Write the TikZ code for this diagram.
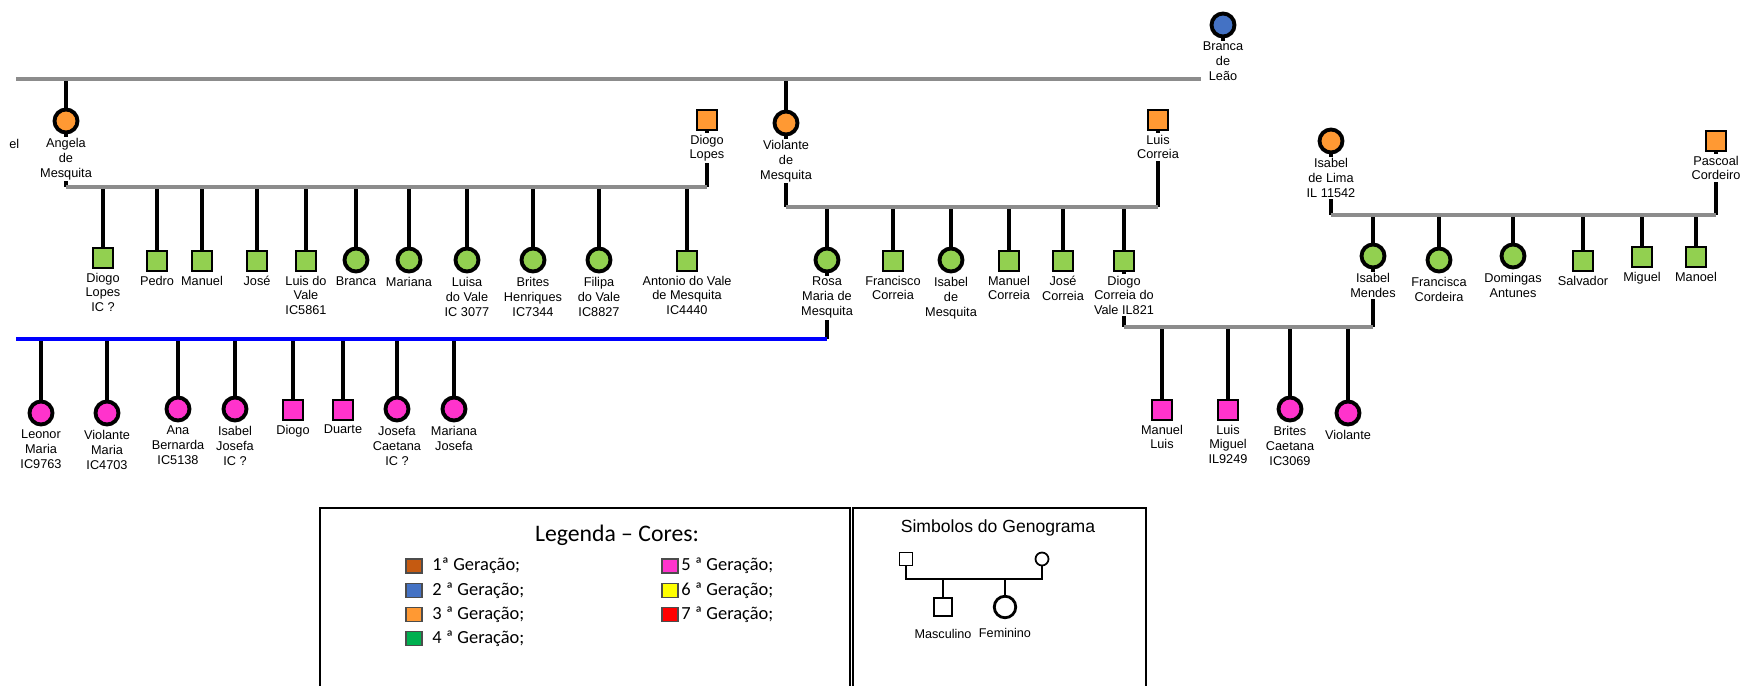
\documentclass[tikz,border=0pt]{standalone}
\usepackage{fontspec}
\setmainfont{Liberation Sans}
\newfontfamily\calibri{Carlito}
\usetikzlibrary{
    backgrounds,
    positioning
}

\definecolor{genorange}{HTML}{FF9933}
\definecolor{genblue}{HTML}{4472C4}
\definecolor{gengreen}{HTML}{92D050}
\definecolor{genpink}{HTML}{FF33CC}
\definecolor{linegray}{HTML}{8C8C8C}
\definecolor{legone}{HTML}{C55A11}
\definecolor{legfour}{HTML}{00B050}
\definecolor{legsix}{HTML}{FFFF00}
\definecolor{legseven}{HTML}{FF0000}

\tikzset{
    person/.style={draw=black, inner sep=0pt},
    male/.style={person, rectangle, minimum size=0.41cm, line width=1.2pt},
    female/.style={person, circle, minimum size=0.46cm, line width=2.2pt},
    gen2/.style={fill=genblue},
    gen3/.style={fill=genorange},
    gen4/.style={fill=gengreen},
    gen5/.style={fill=genpink},
    lbl/.style={font=\fontsize{7.25}{8.5}\selectfont, align=center, fill=white, inner sep=0.8pt},
    every label/.style={label distance=1pt},
    couple/.style={draw=linegray, line width=1.8pt},
    descent/.style={draw=black, line width=1.8pt},
    boxline/.style={draw=black, line width=0.6pt},
    swatch/.style={draw=black!70, line width=0.6pt, minimum width=0.32cm, minimum height=0.28cm, inner sep=0pt},
    legtext/.style={font=\calibri\fontsize{10.5}{12}\selectfont, inner sep=0pt, anchor=west}
}

\begin{document}
\begin{tikzpicture}[x=0.02cm, y=-0.02cm]
    \useasboundingbox (0,0) rectangle (1744,686);

    % grandparents and parents
    \node[female, gen2, label={[lbl]below:Branca\\de\\Leão}] (branca) at (1223,25) {};
    \node[lbl, anchor=east] (cutname) at (21,144) {el};
    \node[female, gen3, label={[lbl]below:Angela\\de\\Mesquita}] (angela) at (66,121) {};
    \node[male, gen3, label={[lbl]below:Diogo\\Lopes}] (diogoL) at (707,120) {};
    \node[female, gen3, label={[lbl]below:Violante\\de\\Mesquita}] (violante) at (786,123) {};
    \node[male, gen3, label={[lbl]below:Luis\\Correia}] (luisC) at (1158,120) {};
    \node[female, gen3, label={[lbl]below:Isabel\\de Lima\\IL 11542}] (isabelL) at (1331,141) {};
    \node[male, gen3, label={[lbl]below:Pascoal\\Cordeiro}] (pascoal) at (1716,141) {};

    % children of Angela and Diogo Lopes
    \node[male, gen4, label={[lbl]below:Diogo\\Lopes\\IC ?}] (diogoIC) at (103,258) {};
    \node[male, gen4, label={[lbl]below:Pedro}] (pedro) at (157,261) {};
    \node[male, gen4, label={[lbl]below:Manuel}] (manuel) at (202,261) {};
    \node[male, gen4, label={[lbl]below:José}] (jose) at (257,261) {};
    \node[male, gen4, label={[lbl]below:Luis do\\Vale\\IC5861}] (luisV) at (306,261) {};
    \node[female, gen4, label={[lbl]below:Branca}] (brancaV) at (356,260) {};
    \node[female, gen4, label={[lbl]below:Mariana}] (mariana) at (409,260) {};
    \node[female, gen4, label={[lbl]below:Luisa\\do Vale\\IC 3077}] (luisa) at (467,260) {};
    \node[female, gen4, label={[lbl]below:Brites\\Henriques\\IC7344}] (britesH) at (533,260) {};
    \node[female, gen4, label={[lbl]below:Filipa\\do Vale\\IC8827}] (filipa) at (599,260) {};
    \node[male, gen4, label={[lbl]below:Antonio do Vale\\de Mesquita\\IC4440}] (antonio) at (687,261) {};

    % children of Violante and Luis Correia
    \node[female, gen4, label={[lbl]below:Rosa\\Maria de\\Mesquita}] (rosa) at (827,260) {};
    \node[male, gen4, label={[lbl]below:Francisco\\Correia}] (francisco) at (893,261) {};
    \node[female, gen4, label={[lbl]below:Isabel\\de\\Mesquita}] (isabelM) at (951,260) {};
    \node[male, gen4, label={[lbl]below:Manuel\\Correia}] (manuelC) at (1009,261) {};
    \node[male, gen4, label={[lbl]below:José\\Correia}] (joseC) at (1063,261) {};
    \node[male, gen4, label={[lbl]below:Diogo\\Correia do\\Vale IL821}] (diogoC) at (1124,261) {};

    % children of Isabel de Lima and Pascoal
    \node[female, gen4, label={[lbl]below:Isabel\\Mendes}] (isabelMe) at (1373,256) {};
    \node[female, gen4, label={[lbl]below:Francisca\\Cordeira}] (francisca) at (1439,260) {};
    \node[female, gen4, label={[lbl]below:Domingas\\Antunes}] (domingas) at (1513,256) {};
    \node[male, gen4, label={[lbl]below:Salvador}] (salvador) at (1583,261) {};
    \node[male, gen4, label={[lbl]below:Miguel}] (miguel) at (1642,257) {};
    \node[male, gen4, label={[lbl]below:Manoel}] (manoel) at (1696,257) {};

    % children of Rosa
    \node[female, gen5, label={[lbl]below:Leonor\\Maria\\IC9763}] (leonor) at (41,413) {};
    \node[female, gen5, label={[lbl]below:Violante\\Maria\\IC4703}] (violanteM) at (107,413) {};
    \node[female, gen5, label={[lbl]below:Ana\\Bernarda\\IC5138}] (ana) at (178,409) {};
    \node[female, gen5, label={[lbl]below:Isabel\\Josefa\\IC ?}] (isabelJ) at (235,409) {};
    \node[male, gen5, label={[lbl]below:Diogo}] (diogo) at (293,410) {};
    \node[male, gen5, label={[lbl]below:Duarte}] (duarte) at (343,410) {};
    \node[female, gen5, label={[lbl]below:Josefa\\Caetana\\IC ?}] (josefa) at (397,409) {};
    \node[female, gen5, label={[lbl]below:Mariana\\Josefa}] (marianaJ) at (454,409) {};

    % children of Diogo Correia and Isabel Mendes
    \node[male, gen5, label={[lbl]below:Manuel\\Luis}] (manuelL) at (1162,410) {};
    \node[male, gen5, label={[lbl]below:Luis\\Miguel\\IL9249}] (luisMi) at (1228,410) {};
    \node[female, gen5, label={[lbl]below:Brites\\Caetana\\IC3069}] (britesC) at (1290,409) {};
    \node[female, gen5, label={[lbl]below:Violante}] (violanteV) at (1348,413) {};

    \begin{scope}[on background layer]
        \coordinate (topline) at (16,79);
        \coordinate (cA) at (0,187);
        \coordinate (cB) at (0,207);
        \coordinate (cC) at (0,215);
        \coordinate (cD) at (0,327);
        \coordinate (blueline) at (16,339);

        \foreach \p in {branca, angela, violante}
            \draw[descent] (\p) -- (\p |- topline);
        \draw[couple] (topline) -- (branca |- topline);

        \foreach \p in {angela, diogoL}
            \draw[descent] (\p) -- (\p |- cA);
        \foreach \c in {diogoIC, pedro, manuel, jose, luisV, brancaV, mariana, luisa, britesH, filipa, antonio}
            \draw[descent] (\c |- cA) -- (\c);
        \draw[couple] (angela |- cA) -- (diogoL |- cA);

        \foreach \p in {violante, luisC}
            \draw[descent] (\p) -- (\p |- cB);
        \foreach \c in {rosa, francisco, isabelM, manuelC, joseC, diogoC}
            \draw[descent] (\c |- cB) -- (\c);
        \draw[couple] (violante |- cB) -- (luisC |- cB);

        \foreach \p in {isabelL, pascoal}
            \draw[descent] (\p) -- (\p |- cC);
        \foreach \c in {isabelMe, francisca, domingas, salvador, miguel, manoel}
            \draw[descent] (\c |- cC) -- (\c);
        \draw[couple] (isabelL |- cC) -- (pascoal |- cC);

        \foreach \p in {diogoC, isabelMe}
            \draw[descent] (\p) -- (\p |- cD);
        \foreach \c in {manuelL, luisMi, britesC, violanteV}
            \draw[descent] (\c |- cD) -- (\c);
        \draw[couple] (diogoC |- cD) -- (isabelMe |- cD);

        \draw[descent] (rosa) -- (rosa |- blueline);
        \foreach \c in {leonor, violanteM, ana, isabelJ, diogo, duarte, josefa, marianaJ}
            \draw[descent] (\c |- blueline) -- (\c);
        \draw[couple, draw=blue] (blueline) -- (rosa |- blueline);
    \end{scope}

    % colour legend
    \draw[boxline] (320,686) |- (850,508) -- (850,686);
    \node[font=\calibri\fontsize{13.5}{16}\selectfont] (legtitle) at (617,535) {Legenda – Cores:};
    \foreach \c/\t [count=\i from 0] in {legone/1ª Geração;, genblue/2 ª Geração;, genorange/3 ª Geração;, legfour/4 ª Geração;}{
        \node[swatch, fill=\c] (swA\i) at (414,{566+24.3*\i}) {};
        \node[legtext] (txtA\i) at (432,{566+24.3*\i}) {\t};
    }
    \foreach \c/\t [count=\i from 0] in {genpink/5 ª Geração;, legsix/6 ª Geração;, legseven/7 ª Geração;}{
        \node[swatch, fill=\c] (swB\i) at (670,{566+24.3*\i}) {};
        \node[legtext] (txtB\i) at (681,{566+24.3*\i}) {\t};
    }

    % symbol legend
    \draw[boxline] (853,686) |- (1146,508) -- (1146,686);
    \node[font=\fontsize{10}{12}\selectfont] (symtitle) at (998,528) {Simbolos do Genograma};
    \node[draw, line width=1pt, minimum size=0.26cm, inner sep=0pt] (symM) at (906,559) {};
    \node[draw, circle, line width=1pt, minimum size=0.26cm, inner sep=0pt] (symF) at (1042,559) {};
    \node[draw, line width=1.4pt, minimum size=0.37cm, inner sep=0pt,
          label={[font=\fontsize{7.2}{8.5}\selectfont, label distance=3pt]below:Masculino}] (symSon) at (943,607) {};
    \node[draw, circle, line width=1.6pt, minimum size=0.43cm, inner sep=0pt,
          label={[font=\fontsize{7.2}{8.5}\selectfont, label distance=1.5pt]below:Feminino}] (symDau) at (1005,607) {};
    \coordinate (symC) at (0,579);
    \draw[line width=1.1pt] (symM) -- (symM |- symC) -- (symF |- symC) -- (symF);
    \draw[line width=1.1pt] (symSon |- symC) -- (symSon);
    \draw[line width=1.1pt] (symDau |- symC) -- (symDau);
\end{tikzpicture}
\end{document}
